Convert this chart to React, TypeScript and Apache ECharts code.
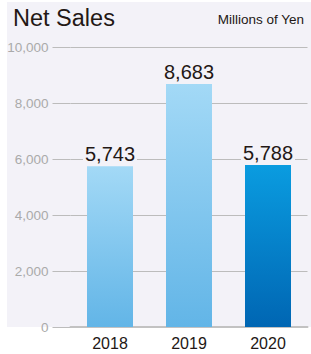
import React, { useEffect, useRef } from "react";
import * as echarts from "echarts";

const categories = ["2018", "2019", "2020"];
const values = [5743, 8683, 5788];
const yTicks = { min: 0, max: 10000, interval: 2000 };
const title = "Net Sales";
const unit = "Millions of Yen";

const FONT = '"Liberation Sans", Arial, Helvetica, sans-serif';
const PANEL = "#f3f2f8";
const DARK = "#231815";

export default function App() {
  const ref = useRef<HTMLDivElement>(null);
  useEffect(() => {
    document.body.style.margin = "0";
    const chart = echarts.init(ref.current!, null, { renderer: "svg" });
    const lightGrad = new echarts.graphic.LinearGradient(0, 0, 0, 1, [
      { offset: 0, color: "#a3d9f6" },
      { offset: 1, color: "#62b5e7" },
    ]);
    const darkGrad = new echarts.graphic.LinearGradient(0, 0, 0, 1, [
      { offset: 0, color: "#0a9ce0" },
      { offset: 1, color: "#0066b3" },
    ]);
    chart.setOption({
      animation: false,
      textStyle: { fontFamily: FONT },
      graphic: [
        {
          type: "rect",
          z: -10,
          shape: { x: 7, y: 2, width: 304, height: 325 },
          style: { fill: PANEL },
        },
        {
          type: "text",
          x: 13,
          y: 18,
          style: {
            text: title,
            fontSize: 23.5,
            fontFamily: FONT,
            fill: DARK,
            verticalAlign: "middle",
            align: "left",
          },
        },
        {
          type: "text",
          x: 304,
          y: 19,
          style: {
            text: unit,
            fontSize: 13.5,
            fontFamily: FONT,
            fill: DARK,
            verticalAlign: "middle",
            align: "right",
          },
        },
      ],
      grid: { left: 70.5, right: 3.5, top: 47, bottom: 27 },
      xAxis: {
        type: "category",
        data: categories,
        axisLine: { show: true, lineStyle: { color: "#c2c2c2", width: 2 } },
        axisTick: { show: false },
        axisLabel: { color: DARK, fontSize: 16, margin: 8, fontFamily: FONT },
      },
      yAxis: {
        type: "value",
        min: yTicks.min,
        max: yTicks.max,
        interval: yTicks.interval,
        axisLine: { show: false },
        axisTick: { show: true, length: 18, lineStyle: { color: "#bcbcbc", width: 1 } },
        splitLine: { show: true, lineStyle: { color: "#bcbcbc", width: 1 } },
        axisLabel: {
          color: "#aaaaaa",
          fontSize: 13.5,
          margin: 22,
          fontFamily: FONT,
          formatter: (v: number) => v.toLocaleString("en-US"),
        },
      },
      series: [
        {
          type: "bar",
          barWidth: 46,
          data: values.map((v, i) => ({
            value: v,
            itemStyle: { color: i === values.length - 1 ? darkGrad : lightGrad },
          })),
          label: {
            show: true,
            position: "top",
            distance: 2,
            color: DARK,
            fontSize: 20,
            fontFamily: FONT,
            backgroundColor: PANEL,
            padding: [0, 2],
            formatter: (p: any) => Number(p.value).toLocaleString("en-US"),
          },
        },
      ],
    });
    return () => chart.dispose();
  }, []);
  return <div ref={ref} style={{ width: 311, height: 354 }} />;
}
